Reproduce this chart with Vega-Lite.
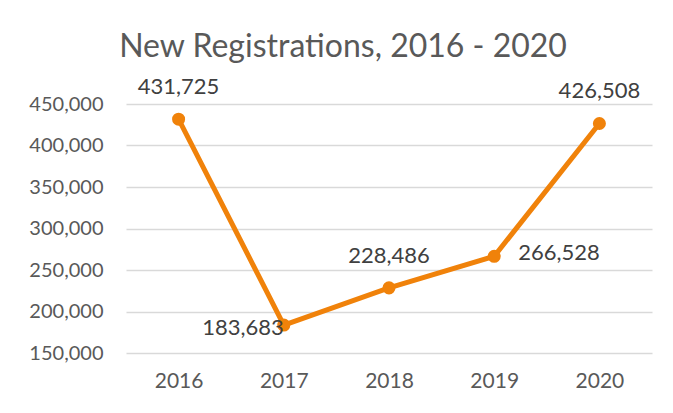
{
  "$schema": "https://vega.github.io/schema/vega-lite/v6.json",
  "autosize": "none",
  "width": 526,
  "height": 249,
  "padding": {"left": 126, "top": 104, "right": 21, "bottom": 60},
  "background": "white",
  "config": {
    "view": {"stroke": null},
    "font": "Lato"
  },
  "title": {
    "text": "New Registrations, 2016 - 2020",
    "fontSize": 32,
    "fontWeight": "normal",
    "color": "#595959",
    "font": "Lato",
    "anchor": "middle",
    "dx": -46,
    "offset": 12
  },
  "data": {
    "values": [
      {"year": "2016", "value": 431725},
      {"year": "2017", "value": 183683},
      {"year": "2018", "value": 228486},
      {"year": "2019", "value": 266528},
      {"year": "2020", "value": 426508}
    ]
  },
  "encoding": {
    "x": {
      "field": "year",
      "type": "ordinal",
      "scale": {"type": "point", "padding": 0.5},
      "axis": {
        "title": null,
        "labelAngle": 0,
        "domain": false,
        "ticks": false,
        "labelFontSize": 21,
        "labelColor": "#595959",
        "labelPadding": 17,
        "labelFont": "Lato"
      }
    },
    "y": {
      "field": "value",
      "type": "quantitative",
      "scale": {"domain": [150000, 450000], "nice": false, "zero": false},
      "axis": {
        "title": null,
        "values": [150000, 200000, 250000, 300000, 350000, 400000, 450000],
        "format": ",.0f",
        "domain": false,
        "ticks": false,
        "labelFontSize": 20,
        "labelColor": "#595959",
        "labelPadding": 23,
        "labelFont": "Lato",
        "gridColor": "#D9D9D9",
        "gridWidth": 1.5
      }
    }
  },
  "layer": [
    {
      "mark": {"type": "line", "color": "#F0820A", "strokeWidth": 5},
      "encoding": {}
    },
    {
      "mark": {"type": "point", "filled": true, "color": "#F0820A", "opacity": 1, "size": 170},
      "encoding": {}
    },
    {
      "transform": [{"filter": "datum.year == '2016' || datum.year == '2018' || datum.year == '2020'"}],
      "mark": {"type": "text", "fontSize": 22, "color": "#404040", "font": "Lato", "dy": -32, "baseline": "middle"},
      "encoding": {"text": {"field": "value", "type": "quantitative", "format": ",.0f"}}
    },
    {
      "transform": [{"filter": "datum.year == '2017'"}],
      "mark": {"type": "text", "fontSize": 22, "color": "#404040", "font": "Lato", "dx": 0, "dy": 3, "align": "right", "baseline": "middle"},
      "encoding": {"text": {"field": "value", "type": "quantitative", "format": ",.0f"}}
    },
    {
      "transform": [{"filter": "datum.year == '2019'"}],
      "mark": {"type": "text", "fontSize": 22, "color": "#404040", "font": "Lato", "dx": 24, "dy": -3, "align": "left", "baseline": "middle"},
      "encoding": {"text": {"field": "value", "type": "quantitative", "format": ",.0f"}}
    }
  ]
}
